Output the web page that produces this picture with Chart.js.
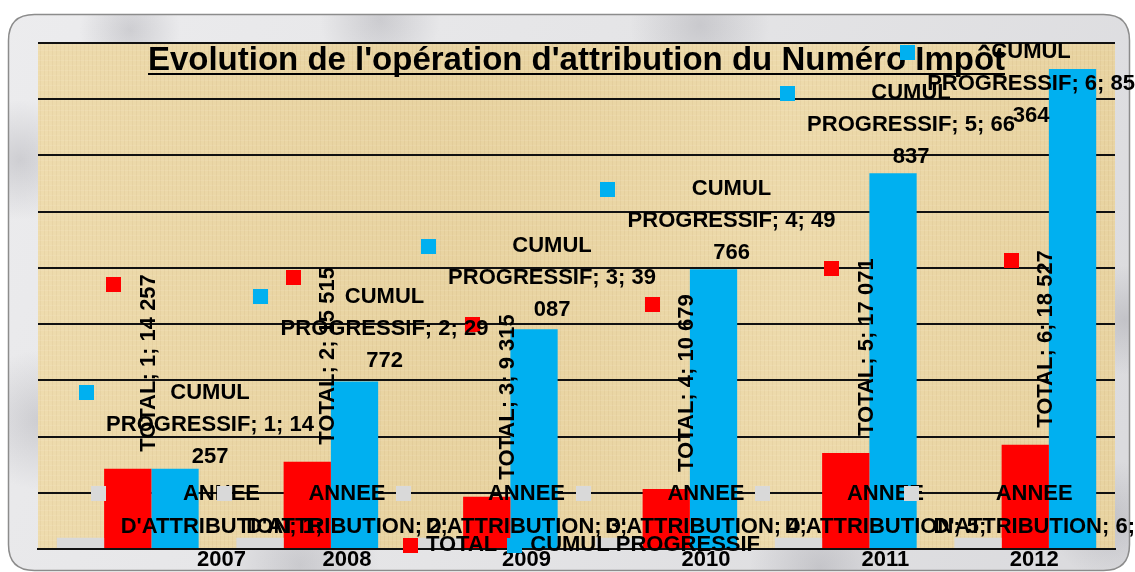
<!DOCTYPE html>
<html lang="fr">
<head>
  <meta charset="UTF-8" />
  <title>Evolution de l'opération d'attribution du Numéro Impôt</title>
  <script src="https://cdn.jsdelivr.net/npm/chart.js"></script>
  <style>
    html, body { margin: 0; padding: 0; background: #fff; }
    #wrap { width: 1135px; height: 572px; }
  </style>
</head>
<body>
  <div id="wrap"><canvas id="chart"></canvas></div>

  <script>
    // données
    const categories = ['1', '2', '3', '4', '5', '6'];
    const seriesNames = ["ANNEE D'ATTRIBUTION", 'TOTAL', 'CUMUL PROGRESSIF'];
    const anneeAttribution = [2007, 2008, 2009, 2010, 2011, 2012];
    const total = [14257, 15515, 9315, 10679, 17071, 18527];
    const cumulProgressif = [14257, 29772, 39087, 49766, 66837, 85364];
    const yMax = 90000;
    const yStep = 10000;
    const chartTitle = "Evolution de l'opération d'attribution du Numéro Impôt";

    const colors = ['#d9d9d9', '#ff0000', '#00b0f0'];
    const FONT = "bold 22px 'Liberation Sans', Arial, sans-serif";
    // petits décalages d'étiquettes repris de l'original
    const greyNudge = [54, 0, 0, 0, 0, 0];
    const blueNudgeX = [17, 12, 0, 0, 0, 0];
    const blueNudgeY = [4, -5, -3, 0, 0, 0];

    function spaced(v) {
      return String(v).replace(/\B(?=(\d{3})+(?!\d))/g, ' ');
    }

    function wrap(ctx, text, maxW) {
      const words = text.split(' ');
      const lines = [];
      let cur = '';
      words.forEach(w => {
        const test = cur ? cur + ' ' + w : w;
        if (cur && ctx.measureText(test).width > maxW) {
          lines.push(cur);
          cur = w;
        } else {
          cur = test;
        }
      });
      if (cur) lines.push(cur);
      return lines;
    }

    function key(ctx, x, y, c) {
      ctx.fillStyle = c;
      ctx.fillRect(Math.round(x - 7.5), Math.round(y - 7.5), 15, 15);
    }

    function roundRect(ctx, x, y, w, h, r) {
      ctx.beginPath();
      ctx.moveTo(x + r, y);
      ctx.lineTo(x + w - r, y);
      ctx.quadraticCurveTo(x + w, y, x + w, y + r);
      ctx.lineTo(x + w, y + h - r);
      ctx.quadraticCurveTo(x + w, y + h, x + w - r, y + h);
      ctx.lineTo(x + r, y + h);
      ctx.quadraticCurveTo(x, y + h, x, y + h - r);
      ctx.lineTo(x, y + r);
      ctx.quadraticCurveTo(x, y, x + r, y);
      ctx.closePath();
    }

    function parchmentPattern(ctx) {
      const off = document.createElement('canvas');
      off.width = 40; off.height = 40;
      const o = off.getContext('2d');
      o.fillStyle = '#ebd7a6';
      o.fillRect(0, 0, 40, 40);
      for (let x = 0; x < 40; x += 4) {
        o.fillStyle = 'rgba(150,120,60,0.07)';
        o.fillRect(x, 0, 1, 40);
      }
      for (let y = 0; y < 40; y += 5) {
        o.fillStyle = 'rgba(255,250,230,0.12)';
        o.fillRect(0, y, 40, 1);
      }
      return ctx.createPattern(off, 'repeat');
    }

    const background = {
      id: 'background',
      beforeDraw(chart) {
        const ctx = chart.ctx, a = chart.chartArea;
        ctx.save();
        ctx.fillStyle = '#fff';
        ctx.fillRect(0, 0, chart.width, chart.height);

        // panneau marbre
        roundRect(ctx, 8.5, 14.5, 1121, 556, 26);
        const g = ctx.createLinearGradient(0, 0, chart.width, chart.height);
        g.addColorStop(0, '#ececee');
        g.addColorStop(0.5, '#e4e4e6');
        g.addColorStop(1, '#dadadd');
        ctx.fillStyle = g;
        ctx.fill();
        ctx.save();
        ctx.clip();
        [[40, 420, 70], [20, 160, 60], [130, 30, 50], [380, 20, 60], [700, 25, 70],
         [1125, 320, 55], [1110, 520, 60], [300, 565, 80], [820, 568, 70]].forEach(([x, y, r]) => {
          const rg = ctx.createRadialGradient(x, y, 0, x, y, r);
          rg.addColorStop(0, 'rgba(120,120,130,0.25)');
          rg.addColorStop(1, 'rgba(120,120,130,0)');
          ctx.fillStyle = rg;
          ctx.fillRect(x - r, y - r, 2 * r, 2 * r);
        });
        ctx.restore();
        ctx.strokeStyle = '#8c8c8c';
        ctx.lineWidth = 1.5;
        ctx.stroke();

        // zone papyrus
        ctx.fillStyle = parchmentPattern(ctx);
        ctx.fillRect(a.left, a.top, a.right - a.left, a.bottom - a.top);
        const pg = ctx.createLinearGradient(a.left, 0, a.right, 0);
        pg.addColorStop(0, 'rgba(255,245,215,0.15)');
        pg.addColorStop(0.4, 'rgba(200,170,100,0.08)');
        pg.addColorStop(0.7, 'rgba(255,245,215,0.12)');
        pg.addColorStop(1, 'rgba(200,170,100,0.08)');
        ctx.fillStyle = pg;
        ctx.fillRect(a.left, a.top, a.right - a.left, a.bottom - a.top);
        ctx.restore();
      }
    };

    const labels = {
      id: 'labels',
      afterDatasetsDraw(chart) {
        const ctx = chart.ctx, a = chart.chartArea, W = chart.width;
        const cxArea = (a.left + a.right) / 2;
        ctx.save();

        // titre souligné
        ctx.font = "bold 33px 'Liberation Sans', Arial, sans-serif";
        ctx.fillStyle = '#000';
        ctx.textAlign = 'center';
        ctx.textBaseline = 'alphabetic';
        ctx.fillText(chartTitle, cxArea, 70);
        const tw = ctx.measureText(chartTitle).width;
        ctx.fillRect(Math.round(cxArea - tw / 2), 73, Math.round(tw), 2);

        ctx.font = FONT;
        ctx.textBaseline = 'middle';

        // ANNEE D'ATTRIBUTION
        chart.getDatasetMeta(0).data.forEach((bar, i) => {
          const text = seriesNames[0] + '; ' + categories[i] + '; ' + anneeAttribution[i];
          const lines = wrap(ctx, text, 220);
          const maxW = Math.max(...lines.map(l => ctx.measureText(l).width));
          let cx = bar.x + 87 + greyNudge[i];
          cx = Math.min(cx, W - maxW / 2);
          const lh = 33;
          const y0 = bar.y - 11 - (lines.length - 1) / 2 * lh;
          key(ctx, cx - maxW / 2 - 22, y0, colors[0]);
          ctx.fillStyle = '#000';
          ctx.textAlign = 'center';
          lines.forEach((l, k) => ctx.fillText(l, cx, y0 + k * lh));
        });

        // TOTAL (vertical)
        chart.getDatasetMeta(1).data.forEach((bar, i) => {
          const text = seriesNames[1] + '; ' + categories[i] + '; ' + spaced(total[i]);
          const w = ctx.measureText(text).width;
          const cx = bar.x + 20;
          const bottom = bar.y - 17;
          key(ctx, cx - 34, bottom - w + 10, colors[1]);
          ctx.save();
          ctx.translate(cx, bottom);
          ctx.rotate(-Math.PI / 2);
          ctx.fillStyle = '#000';
          ctx.textAlign = 'left';
          ctx.fillText(text, 0, 1);
          ctx.restore();
        });

        // CUMUL PROGRESSIF
        chart.getDatasetMeta(2).data.forEach((bar, i) => {
          const text = seriesNames[2] + '; ' + categories[i] + '; ' + spaced(cumulProgressif[i]);
          const lines = wrap(ctx, text, 220);
          const maxW = Math.max(...lines.map(l => ctx.measureText(l).width));
          let cx = bar.x + 18 + blueNudgeX[i];
          cx = Math.min(cx, W - maxW / 2);
          const lh = 32;
          let y0 = bar.y - 16 + blueNudgeY[i] - (lines.length - 1) * lh;
          if (y0 < 52) y0 = 52;
          key(ctx, cx - maxW / 2 - 20, y0, colors[2]);
          ctx.fillStyle = '#000';
          ctx.textAlign = 'center';
          lines.forEach((l, k) => ctx.fillText(l, cx, y0 + k * lh));
        });

        // légende (TOTAL, CUMUL PROGRESSIF)
        const items = [1, 2].map(d => ({ name: seriesNames[d], c: colors[d], w: ctx.measureText(seriesNames[d]).width }));
        const totalW = items.reduce((s, it) => s + 15 + 8 + it.w, 0) + 10 * (items.length - 1);
        let x = cxArea - totalW / 2 + 5;
        const ly = 545;
        items.forEach(it => {
          key(ctx, x + 7.5, ly, it.c);
          ctx.fillStyle = '#000';
          ctx.textAlign = 'left';
          ctx.fillText(it.name, x + 23, ly);
          x += 15 + 8 + it.w + 10;
        });

        ctx.restore();
      }
    };

    new Chart(document.getElementById('chart').getContext('2d'), {
      type: 'bar',
      data: {
        labels: categories,
        datasets: [
          { label: seriesNames[0], data: anneeAttribution, backgroundColor: colors[0] },
          { label: seriesNames[1], data: total, backgroundColor: colors[1] },
          { label: seriesNames[2], data: cumulProgressif, backgroundColor: colors[2] }
        ]
      },
      options: {
        responsive: true,
        maintainAspectRatio: false,
        animation: false,
        datasets: { bar: { categoryPercentage: 0.79, barPercentage: 1, borderWidth: 0 } },
        layout: { padding: { left: 38, right: 20, top: 43, bottom: 23 } },
        plugins: {
          legend: { display: false },
          title: { display: false },
          tooltip: { enabled: false }
        },
        scales: {
          x: {
            grid: { display: false, drawTicks: false },
            border: { display: true, color: '#111', width: 2 },
            ticks: { display: false }
          },
          y: {
            min: 0,
            max: yMax,
            grid: { color: '#111', lineWidth: 2, drawTicks: false },
            border: { display: false },
            ticks: { display: false, stepSize: yStep }
          }
        }
      },
      plugins: [background, labels]
    });
  </script>
</body>
</html>
